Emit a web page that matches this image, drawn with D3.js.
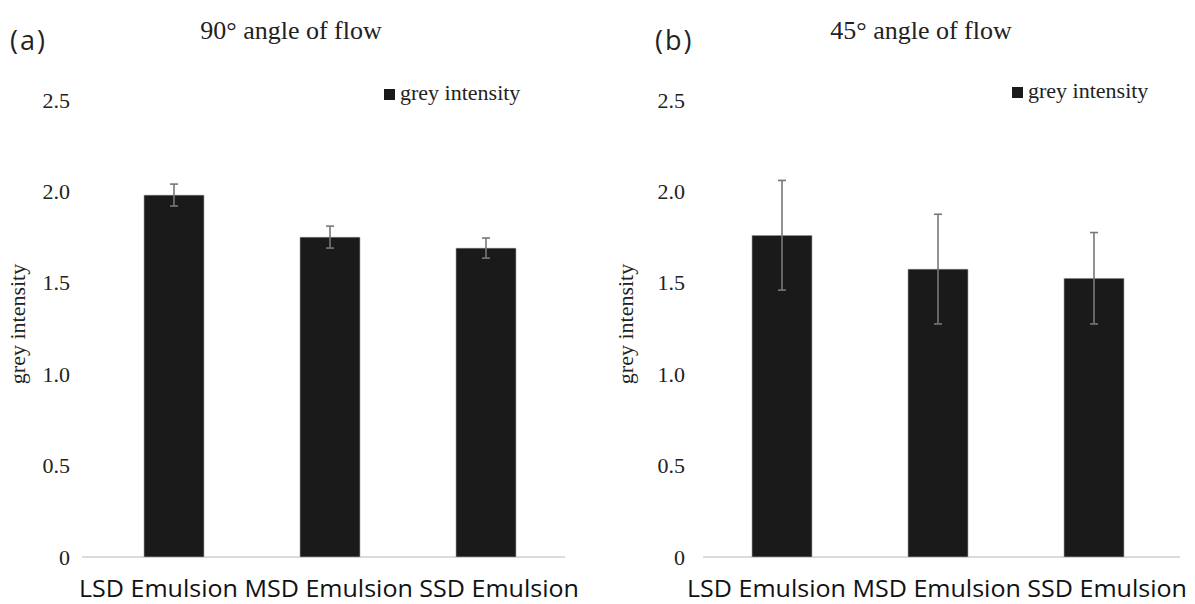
<!DOCTYPE html>
<html>
<head>
<meta charset="utf-8">
<script src="https://cdn.jsdelivr.net/npm/d3@7"></script>
<style>
  body { margin: 0; background: #fff; }
  .tick text { font-family: "Liberation Serif", "DejaVu Serif", serif; font-size: 22px; fill: #222; }
</style>
</head>
<body>
<div id="chart"></div>
<script>
// categories shared by both panels
const categories = ['LSD Emulsion', 'MSD Emulsion', 'SSD Emulsion'];
const yTicks = [0, 0.5, 1.0, 1.5, 2.0, 2.5];

// panel (a) 90 degree flow
const flow90Values = [1.98, 1.75, 1.69];
const flow90Errors = [0.06, 0.06, 0.055];

// panel (b) 45 degree flow
const flow45Values = [1.76, 1.575, 1.525];
const flow45Errors = [0.30, 0.30, 0.25];

const svg = d3.select('#chart')
    .append('svg')
    .attr('width', 1195)
    .attr('height', 604);

/**
 * One bar panel with error bars
 */
class BarPanel {

    constructor(_config, _values, _errors) {
        this.config = {
            offsetX: _config.offsetX,
            letter: _config.letter,
            letterX: _config.letterX,
            title: _config.title,
            titleX: _config.titleX,
            legendX: _config.legendX,
            legendY: _config.legendY,
            axisX: _config.axisX,
            baseline: _config.baseline
        };
        this.data = categories.map((c, i) => ({ cat: c, value: _values[i], err: _errors[i] }));
        this.initVis();
    }

    initVis() {
        let vis = this;
        const ox = vis.config.offsetX;

        vis.g = svg.append('g').attr('transform', `translate(${ox},0)`);

        vis.xScale = d3.scaleBand()
            .domain(categories)
            .range([96, 564])
            .paddingInner(0.615)
            .paddingOuter(0.3075);

        vis.yScale = d3.scaleLinear()
            .domain([0, 2.5])
            .range([557, 100]);

        // panel letter and title
        vis.g.append('text')
            .attr('x', vis.config.letterX)
            .attr('y', 50)
            .attr('font-family', 'Open Sans, sans-serif')
            .attr('font-size', 27)
            .attr('letter-spacing', 2)
            .attr('fill', '#222')
            .text(vis.config.letter);

        vis.g.append('text')
            .attr('x', vis.config.titleX)
            .attr('y', 39)
            .attr('text-anchor', 'middle')
            .attr('font-family', 'Liberation Serif, serif')
            .attr('font-size', 26)
            .attr('fill', '#222')
            .text(vis.config.title);

        // legend
        vis.g.append('rect')
            .attr('x', vis.config.legendX).attr('y', vis.config.legendY - 11)
            .attr('width', 11).attr('height', 11)
            .attr('fill', '#1a1a1a');
        vis.g.append('text')
            .attr('x', vis.config.legendX + 16)
            .attr('y', vis.config.legendY)
            .attr('font-family', 'Liberation Serif, serif')
            .attr('font-size', 22)
            .attr('fill', '#222')
            .text('grey intensity');

        // y axis label
        vis.g.append('text')
            .attr('transform', `translate(25, 324) rotate(-90)`)
            .attr('text-anchor', 'middle')
            .attr('font-family', 'Liberation Serif, serif')
            .attr('font-size', 22)
            .attr('fill', '#222')
            .text('grey intensity');

        vis.yAxis = d3.axisLeft(vis.yScale)
            .tickValues(yTicks)
            .tickSize(0)
            .tickPadding(12)
            .tickFormat(d => d === 0 ? '0' : d3.format('.1f')(d));

        vis.g.append('g')
            .attr('class', 'y-axis')
            .attr('transform', `translate(${vis.config.axisX},0)`)
            .call(vis.yAxis)
            .call(g => g.select('.domain').remove());

        // baseline
        vis.g.append('line')
            .attr('x1', vis.config.baseline[0]).attr('x2', vis.config.baseline[1])
            .attr('y1', vis.yScale(0)).attr('y2', vis.yScale(0))
            .attr('stroke', '#cfcfcf')
            .attr('stroke-width', 1.5);

        vis.updateVis();
    }

    updateVis() {
        let vis = this;

        vis.g.selectAll('.bar')
            .data(vis.data)
            .join('rect')
            .attr('class', 'bar')
            .attr('x', d => vis.xScale(d.cat))
            .attr('y', d => vis.yScale(d.value))
            .attr('width', vis.xScale.bandwidth())
            .attr('height', d => vis.yScale(0) - vis.yScale(d.value))
            .attr('fill', '#1a1a1a')
            .attr('stroke', '#bbb')
            .attr('stroke-width', 0.6);

        const cx = d => vis.xScale(d.cat) + vis.xScale.bandwidth() / 2;

        // error bars
        vis.g.selectAll('.err')
            .data(vis.data)
            .join('line')
            .attr('class', 'err')
            .attr('x1', cx).attr('x2', cx)
            .attr('y1', d => vis.yScale(d.value + d.err))
            .attr('y2', d => vis.yScale(d.value - d.err))
            .attr('stroke', '#777')
            .attr('stroke-width', 1.6);

        ['top', 'bottom'].forEach(end => {
            vis.g.selectAll('.cap-' + end)
                .data(vis.data)
                .join('line')
                .attr('class', 'cap-' + end)
                .attr('x1', d => cx(d) - 4).attr('x2', d => cx(d) + 4)
                .attr('y1', d => vis.yScale(end === 'top' ? d.value + d.err : d.value - d.err))
                .attr('y2', d => vis.yScale(end === 'top' ? d.value + d.err : d.value - d.err))
                .attr('stroke', '#777')
                .attr('stroke-width', 1.6);
        });

        // category labels, written as one line like the original
        vis.g.append('text')
            .attr('class', 'cat-label')
            .attr('x', 79)
            .attr('y', 597)
            .attr('font-family', 'Open Sans, sans-serif')
            .attr('font-size', 23)
            .attr('textLength', 500)
            .attr('lengthAdjust', 'spacingAndGlyphs')
            .attr('fill', '#111')
            .text(categories.join(' '));
    }
}

new BarPanel({ offsetX: 0, letter: '(a)', letterX: 10, title: '90° angle of flow', titleX: 291,
    legendX: 384, legendY: 100, axisX: 82, baseline: [82, 565] }, flow90Values, flow90Errors);
new BarPanel({ offsetX: 608, letter: '(b)', letterX: 47, title: '45° angle of flow', titleX: 313,
    legendX: 404, legendY: 98, axisX: 89, baseline: [95, 572] }, flow45Values, flow45Errors);
</script>
</body>
</html>
